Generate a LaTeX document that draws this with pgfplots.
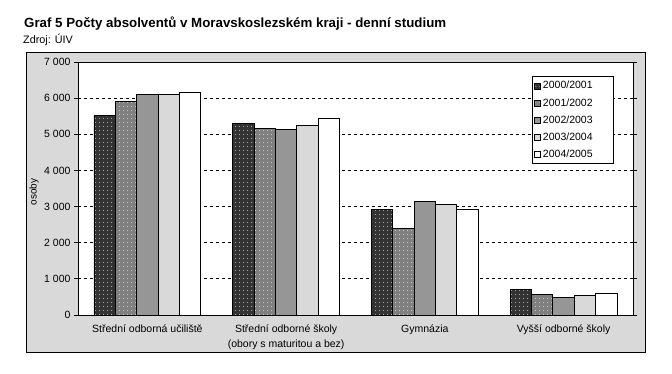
\documentclass[border=0pt]{standalone}
\usepackage{fontspec}
\setmainfont{Liberation Sans}
\usepackage{pgfplots}
\pgfplotsset{compat=1.18}
\usetikzlibrary{patterns.meta}
\definecolor{chartbg}{RGB}{217,217,217}
\definecolor{cA}{RGB}{51,51,51}
\definecolor{cB}{RGB}{128,128,128}
\definecolor{cC}{RGB}{150,150,150}
\definecolor{cD}{RGB}{217,217,217}
\definecolor{cE}{RGB}{255,255,255}
\newcommand{\legbox}[1]{\makebox[66pt][l]{#1}}
\begin{document}
\begin{tikzpicture}
\useasboundingbox (-78pt,-59pt) rectangle (594pt,315pt);
\draw[fill=chartbg, line width=0.9pt] (-52pt,-37pt) rectangle (567pt,263pt);
\node[anchor=base west, inner sep=0pt, font=\fontsize{13.3}{15}\selectfont\bfseries] at (-54pt,287pt) {Graf 5 Počty absolventů v Moravskoslezském kraji - denní studium};
\node[anchor=base west, inner sep=0pt, font=\fontsize{10.8}{12}\selectfont] at (-55pt,271pt) {Zdroj: ÚIV};
\begin{axis}[
  at={(0pt,0pt)}, anchor=south west,
  scale only axis, width=555pt, height=253pt,
  axis background/.style={fill=white},
  axis line style={line width=0.9pt},
  ybar=0pt, bar width=0.154,
  xmin=-0.5, xmax=3.5, ymin=0, ymax=7000,
  xtick={0,1,2,3},
  xticklabels={Střední odborná učiliště, {Střední odborné školy\\(obory s maturitou a bez)}, Gymnázia, Vyšší odborné školy},
  x tick style={draw=none},
  xticklabel style={align=center, font=\fontsize{10.5}{15}\selectfont, yshift=-2pt},
  ytick={0,1000,...,7000},
  y tick style={black, line width=0.8pt},
  tick align=outside, major tick length=4pt,
  yticklabel style={font=\fontsize{10.5}{12}\selectfont},
  /pgf/number format/.cd, 1000 sep={\ }, assume math mode=true, /pgfplots/.cd,
  ymajorgrids, grid style={black, dash pattern=on 3pt off 3pt, line width=0.8pt},
  ylabel={osoby},
  ylabel style={at={(axis description cs:-0.0793,0.486)}, anchor=center, font=\fontsize{10}{12}\selectfont},
  legend style={at={(0.818,0.945)}, anchor=north west, draw=black, line width=0.8pt, fill=white,
    font=\fontsize{10.5}{12}\selectfont, row sep=4pt, inner xsep=2pt, inner ysep=3pt,
    cells={anchor=west}},
  legend image code/.code={\draw[#1, line width=0.6pt] (0pt,-3pt) rectangle (6pt,3pt);},
  every axis plot/.append style={draw=black, line width=0.9pt},
]
\addplot[fill=cA, postaction={pattern color=white, pattern={Dots[distance=4pt,radius=0.5pt]}}] coordinates {(0,5510) (1,5300) (2,2920) (3,716)};
\addplot[fill=cB, postaction={pattern color=white, pattern={Dots[distance=4pt,radius=0.5pt]}}] coordinates {(0,5920) (1,5170) (2,2390) (3,570)};
\addplot[fill=cC] coordinates {(0,6090) (1,5140) (2,3130) (3,490)};
\addplot[fill=cD] coordinates {(0,6090) (1,5250) (2,3050) (3,540)};
\addplot[fill=cE] coordinates {(0,6160) (1,5440) (2,2920) (3,600)};
\legend{\legbox{2000/2001},\legbox{2001/2002},\legbox{2002/2003},\legbox{2003/2004},\legbox{2004/2005}}
\end{axis}
\end{tikzpicture}
\end{document}
